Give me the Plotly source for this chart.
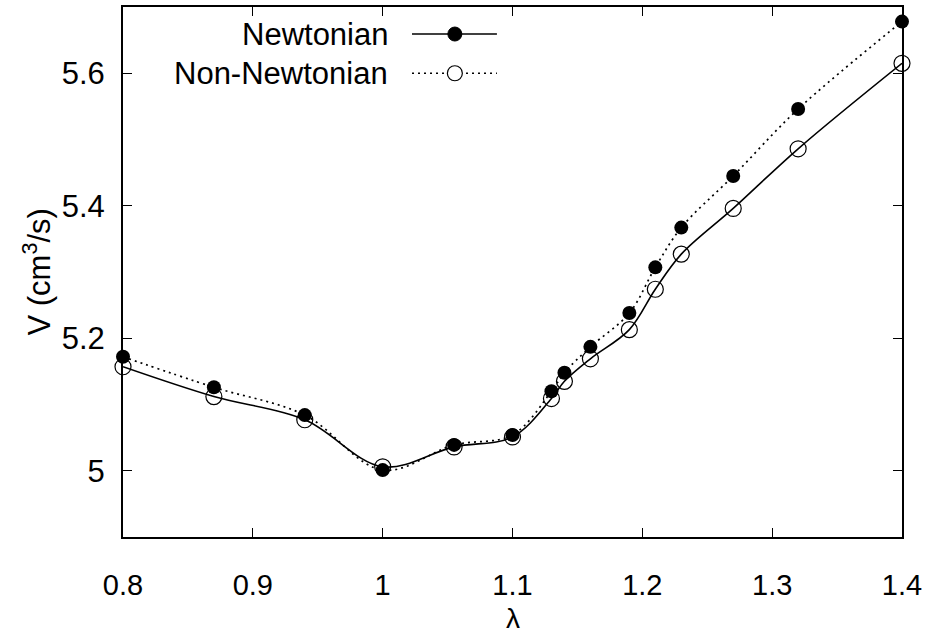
import plotly.graph_objects as go

# lambda values (shared by both series)
lam = [0.80, 0.87, 0.94, 1.00, 1.055, 1.10, 1.13, 1.14, 1.16, 1.19, 1.21, 1.23, 1.27, 1.32, 1.40]
# filled-circle series (lies on dotted curve)
v_filled = [5.172, 5.126, 5.084, 5.001, 5.039, 5.054, 5.120, 5.148, 5.187, 5.238, 5.307, 5.367, 5.445, 5.546, 5.678]
# open-circle series (lies on solid curve)
v_open = [5.157, 5.112, 5.077, 5.006, 5.036, 5.051, 5.109, 5.135, 5.169, 5.213, 5.274, 5.327, 5.396, 5.486, 5.615]

x_ticks = [0.8, 0.9, 1.0, 1.1, 1.2, 1.3, 1.4]
x_ticklabels = ["0.8", "0.9", "1", "1.1", "1.2", "1.3", "1.4"]
y_ticks = [5.0, 5.2, 5.4, 5.6]
y_ticklabels = ["5", "5.2", "5.4", "5.6"]
legend_names = ["Newtonian", "Non-Newtonian"]
x_title = "λ"
y_title = "V (cm<sup>3</sup>/s)"

FONT = "Liberation Sans, Arial, sans-serif"
FS = 31

fig = go.Figure()
fig.add_trace(go.Scatter(x=lam, y=v_filled, mode="lines", line=dict(color="black", width=1.7, dash="2px,4px", shape="spline", smoothing=1.0), showlegend=False))
fig.add_trace(go.Scatter(x=lam, y=v_open, mode="lines", line=dict(color="black", width=1.6, shape="spline", smoothing=1.0), showlegend=False))
fig.add_trace(go.Scatter(x=lam, y=v_open, mode="markers", marker=dict(symbol="circle-open", size=16, color="black", line=dict(width=1.2)), showlegend=False, cliponaxis=False))
fig.add_trace(go.Scatter(x=lam, y=v_filled, mode="markers", marker=dict(symbol="circle", size=14, color="black"), showlegend=False, cliponaxis=False))

# legend drawn gnuplot-style (text left, sample right)
rows = [0.949, 0.875]
dashes = ["solid", "dot"]
for name, yy, dsh in zip(legend_names, rows, dashes):
    fig.add_annotation(xref="paper", yref="paper", x=0.343, y=yy, text=name, showarrow=False,
                       xanchor="right", yanchor="middle", font=dict(family=FONT, size=FS, color="black"))
    fig.add_shape(type="line", xref="paper", yref="paper", x0=0.371, x1=0.480, y0=yy, y1=yy,
                  line=dict(color="black", width=1.6, dash=("2px,4px" if dsh == "dot" else "solid")))
fig.add_shape(type="circle", xref="paper", yref="paper", xsizemode="pixel", ysizemode="pixel",
              xanchor=0.426, yanchor=rows[0], x0=-7, x1=7, y0=-7, y1=7,
              fillcolor="black", line=dict(color="black", width=1))
fig.add_shape(type="circle", xref="paper", yref="paper", xsizemode="pixel", ysizemode="pixel",
              xanchor=0.426, yanchor=rows[1], x0=-7.5, x1=7.5, y0=-7.5, y1=7.5,
              fillcolor="white", line=dict(color="black", width=1.2))

# axis titles as annotations (fixed positions, gnuplot-like)
fig.add_annotation(xref="paper", yref="paper", x=0.5, y=-0.185, text=x_title, showarrow=False,
                   xanchor="center", yanchor="bottom", borderpad=0,
                   font=dict(family=FONT, size=28, color="black"))
fig.add_annotation(xref="paper", yref="paper", x=-0.111, y=0.5, text=y_title, showarrow=False, textangle=-90,
                   xanchor="center", yanchor="middle", font=dict(family=FONT, size=FS, color="black"))

axis_common = dict(showgrid=False, zeroline=False, showline=True, linecolor="black", linewidth=2,
                   mirror="allticks", ticks="inside", ticklen=9, tickwidth=1.2, tickcolor="black",
                   automargin=False)
fig.update_xaxes(range=[0.8, 1.4], tickvals=x_ticks, ticktext=x_ticklabels,
                 tickfont=dict(family=FONT, size=29, color="black"),
                 ticklabelstandoff=21, **axis_common)
fig.update_yaxes(range=[4.9, 5.7], tickvals=y_ticks, ticktext=y_ticklabels,
                 tickfont=dict(family=FONT, size=FS, color="black"),
                 ticklabelstandoff=10, **axis_common)

fig.update_layout(width=933, height=635, margin=dict(l=123, r=31, t=7, b=98),
                  paper_bgcolor="white", plot_bgcolor="white", showlegend=False)
fig.write_html("out.html")
